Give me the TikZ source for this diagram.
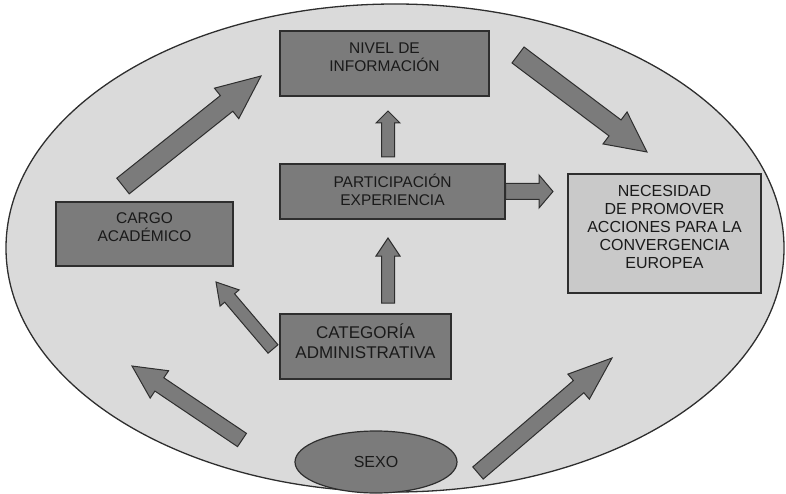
\documentclass[tikz,border=0pt]{standalone}
\usepackage{fontspec}
\setmainfont{Liberation Sans}
\usetikzlibrary{calc,positioning,shapes.geometric}

\definecolor{bggray}{HTML}{DADADA}
\definecolor{boxgray}{HTML}{7B7B7B}
\definecolor{lightbox}{HTML}{C9C9C9}
\definecolor{edgegray}{HTML}{2E2E2E}
\definecolor{textgray}{HTML}{1A1A1A}

\tikzset{
  box/.style={rectangle, draw=edgegray, fill=boxgray, line width=1.2pt,
    align=center, text=textgray, inner sep=0pt},
  fatarrow/.style={draw=edgegray, fill=boxgray, line width=1pt, line join=miter},
}

% tail, tip, shaft half width, head half width, head length
\newcommand{\blockarrow}[5]{%
  \coordinate (ba-h) at ($(#2)!#5!(#1)$);
  \path[fatarrow] ($(#1)!#3!90:(#2)$) -- ($(ba-h)!#3!90:(#2)$)
    -- ($(ba-h)!#4!90:(#2)$) -- (#2) -- ($(ba-h)!#4!-90:(#2)$)
    -- ($(ba-h)!#3!-90:(#2)$) -- ($(#1)!#3!-90:(#2)$) -- cycle;
}

\begin{document}
\begin{tikzpicture}[x=1pt,y=-1pt]
   \useasboundingbox (0,0) rectangle (786,494);
   \draw[edgegray, fill=bggray, line width=1.3pt] (395,248) ellipse [x radius=389pt, y radius=244pt];

   \node[box, minimum width=209pt, minimum height=65pt, text depth=13pt, font=\fontsize{15.5}{18}\selectfont]
      (nivel) at (384.5,63.5) {NIVEL DE\\INFORMACIÓN};
   \node[box, minimum width=225pt, minimum height=55pt, text depth=4pt, font=\fontsize{15.5}{18}\selectfont]
      (part) at (392.5,191.5) {PARTICIPACIÓN\\EXPERIENCIA};
   \node[box, fill=lightbox, minimum width=193pt, minimum height=119pt, text depth=12.5pt, font=\fontsize{16}{18}\selectfont]
      (nec) at (664.5,233.5) {NECESIDAD\\DE PROMOVER\\ACCIONES PARA LA\\CONVERGENCIA\\EUROPEA};
   \node[box, minimum width=177pt, minimum height=64pt, text depth=13pt, font=\fontsize{15.5}{18}\selectfont]
      (cargo) at (144.5,234) {CARGO\\ACADÉMICO};
   \node[box, minimum width=171pt, minimum height=65pt, text depth=11pt, font=\fontsize{17}{20}\selectfont]
      (cat) at (365.5,346.5) {CATEGORÍA\\ADMINISTRATIVA};
   \node[box, ellipse, minimum width=162pt, minimum height=62pt, font=\fontsize{16}{18}\selectfont]
      (sexo) at (376,462) {SEXO};

   \coordinate (cargo-up)  at (123,186);
   \coordinate (nivel-in)  at (261,76);
   \coordinate (nivel-out) at (518,55);
   \coordinate (nec-top)   at (647,152);
   \coordinate (nec-in)    at (553,191.5);
   \coordinate (part-top)  at (388,157);
   \coordinate (nivel-bot) at (388,111);
   \coordinate (cat-top)   at (388,303);
   \coordinate (part-bot)  at (388,238);
   \coordinate (cat-left)  at (273,349);
   \coordinate (cargo-bot) at (216,282);
   \coordinate (sexo-l)    at (242,440);
   \coordinate (left-tip)  at (132,366);
   \coordinate (sexo-r)    at (478,473);
   \coordinate (right-tip) at (612,358);

   \blockarrow{cargo-up}{nivel-in}{10pt}{19.5pt}{44pt}
   \blockarrow{nivel-out}{nec-top}{10pt}{20pt}{40pt}
   \blockarrow{part.east}{nec-in}{8pt}{16.5pt}{14pt}
   \blockarrow{part-top}{nivel-bot}{6.5pt}{12pt}{12pt}
   \blockarrow{cat-top}{part-bot}{6.5pt}{12pt}{18pt}
   \blockarrow{cat-left}{cargo-bot}{6.5pt}{12.5pt}{21pt}
   \blockarrow{sexo-l}{left-tip}{8pt}{16.5pt}{33pt}
   \blockarrow{sexo-r}{right-tip}{8pt}{16.5pt}{44pt}
\end{tikzpicture}
\end{document}
